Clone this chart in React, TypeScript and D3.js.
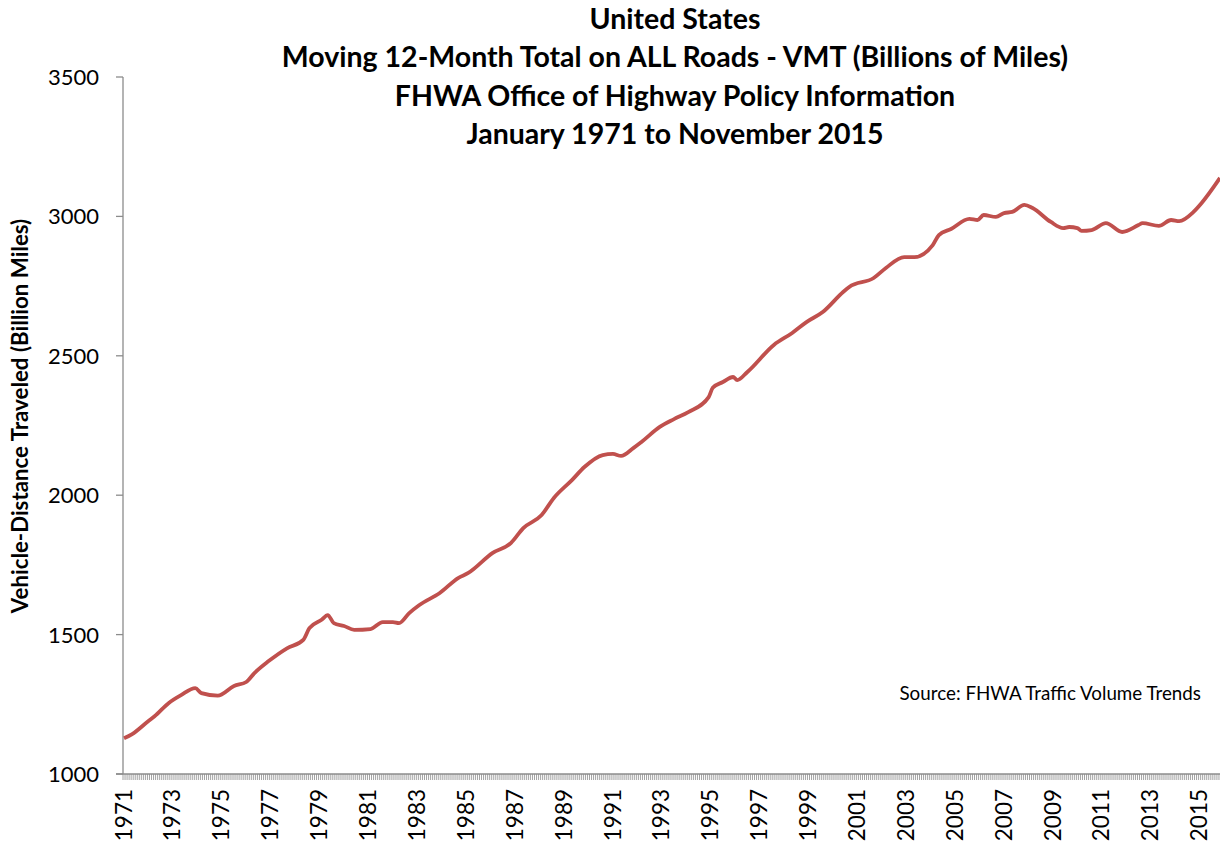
import React, { useEffect, useRef } from "react";
import * as d3 from "d3";

// Months since January 1971 (0 = Jan 1971) and VMT in billions of miles
const months = [0, 4, 12, 15, 22, 28, 35, 38, 46, 54, 60, 64, 71, 80, 88, 91, 97, 100, 103, 108, 113, 121, 127, 132, 135, 140, 145, 155, 164, 169, 181, 190, 196, 205, 211, 220, 226, 235, 240, 244, 250, 254, 263, 270, 277, 287, 289, 294, 299, 301, 306, 319, 328, 335, 343, 353, 356, 368, 374, 383, 388, 397, 400, 406, 415, 419, 422, 428, 432, 436, 442, 446, 455, 461, 464, 468, 470, 475, 482, 490, 498, 500, 508, 514, 518, 525, 529, 538];
const vmt = [1128, 1143, 1190, 1207, 1255, 1283, 1308, 1290, 1281, 1316, 1330, 1362, 1405, 1451, 1481, 1523, 1553, 1570, 1541, 1531, 1517, 1520, 1545, 1545, 1541, 1577, 1606, 1649, 1703, 1721, 1793, 1829, 1882, 1929, 1990, 2055, 2101, 2144, 2148, 2141, 2169, 2191, 2245, 2273, 2298, 2352, 2385, 2406, 2424, 2413, 2442, 2539, 2582, 2621, 2657, 2729, 2747, 2779, 2815, 2854, 2854, 2897, 2933, 2955, 2991, 2987, 3005, 2998, 3012, 3016, 3041, 3030, 2980, 2958, 2962, 2958, 2948, 2951, 2976, 2944, 2969, 2976, 2966, 2987, 2983, 3016, 3048, 3138];

const yTicks = [1000, 1500, 2000, 2500, 3000, 3500];
const yearLabels = ["1971", "1973", "1975", "1977", "1979", "1981", "1983", "1985", "1987", "1989", "1991", "1993", "1995", "1997", "1999", "2001", "2003", "2005", "2007", "2009", "2011", "2013", "2015"];
const titleLines = [
  "United States",
  "Moving 12-Month Total on ALL Roads - VMT (Billions of Miles)",
  "FHWA Office of Highway Policy Information",
  "January 1971 to November 2015",
];
const nMonths = 539;

export default function App() {
  const ref = useRef<SVGSVGElement>(null);
  useEffect(() => {
    const svg = d3.select(ref.current);
    svg.selectAll("*").remove();
    const font = "Lato, 'Open Sans', sans-serif";
    const left = 123, right = 1221, top = 77, bottom = 774;
    const x = d3.scaleLinear().domain([0, nMonths]).range([left, right]);
    const y = d3.scaleLinear().domain([1000, 3500]).range([bottom, top]);
    const axisColor = "#8c8c8c";

    // title
    svg.append("g").selectAll("text").data(titleLines).join("text")
      .attr("x", 675).attr("y", (_d, i) => 29 + i * 38.3)
      .attr("text-anchor", "middle").attr("font-family", font)
      .attr("font-weight", "bold").attr("font-size", 28.5).attr("fill", "#000")
      .text((d) => d);

    // y axis
    const ya = svg.append("g");
    ya.append("line").attr("x1", left).attr("x2", left).attr("y1", top).attr("y2", bottom)
      .attr("stroke", axisColor).attr("stroke-width", 1.3);
    ya.selectAll("line.t").data(yTicks).join("line").attr("class", "t")
      .attr("x1", left - 7).attr("x2", left).attr("y1", (d) => y(d)).attr("y2", (d) => y(d))
      .attr("stroke", axisColor).attr("stroke-width", 1.3);
    ya.selectAll("text").data(yTicks).join("text")
      .attr("x", 99).attr("y", (d) => y(d)).attr("dy", "0.36em")
      .attr("text-anchor", "end").attr("font-family", font).attr("font-size", 22)
      .attr("fill", "#000").text((d) => String(d));

    // x axis
    const xa = svg.append("g");
    xa.append("line").attr("x1", left - 7).attr("x2", right).attr("y1", bottom).attr("y2", bottom)
      .attr("stroke", axisColor).attr("stroke-width", 1.3);
    xa.selectAll("line.t").data(d3.range(0, nMonths + 1)).join("line").attr("class", "t")
      .attr("x1", (d) => x(d)).attr("x2", (d) => x(d)).attr("y1", bottom).attr("y2", bottom + 6)
      .attr("stroke", axisColor).attr("stroke-width", 0.8);
    xa.selectAll("text").data(yearLabels).join("text")
      .attr("transform", (d) => `translate(${x((+d - 1971) * 12) + 0.5},${789}) rotate(-90)`)
      .attr("dy", "0.36em").attr("text-anchor", "end")
      .attr("font-family", font).attr("font-size", 22.5).attr("fill", "#000")
      .text((d) => d);

    // y title
    svg.append("text")
      .attr("transform", `translate(20,416) rotate(-90)`)
      .attr("dy", "0.36em").attr("text-anchor", "middle")
      .attr("font-family", font).attr("font-weight", "bold").attr("font-size", 22.3)
      .attr("fill", "#000").text("Vehicle-Distance Traveled (Billion Miles)");

    // line
    const data = months.map((m, i) => [m, vmt[i]] as [number, number]);
    const line = d3.line<[number, number]>()
      .x((d) => x(d[0] + 0.5)).y((d) => y(d[1])).curve(d3.curveMonotoneX);
    svg.append("path").datum(data).attr("d", line)
      .attr("fill", "none").attr("stroke", "#C0504D").attr("stroke-width", 3.8)
      .attr("stroke-linejoin", "round");

    // source
    svg.append("text").attr("x", 1201).attr("y", 700).attr("text-anchor", "end")
      .attr("font-family", font).attr("font-size", 18.8).attr("fill", "#000")
      .text("Source: FHWA Traffic Volume Trends");
  }, []);
  return (
    <svg ref={ref} width={1220} height={846}
      style={{ position: "absolute", left: 0, top: 0, background: "#fff" }} />
  );
}
